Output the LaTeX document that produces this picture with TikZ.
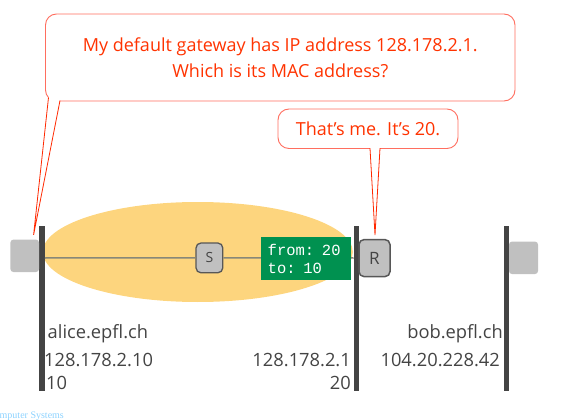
\documentclass[tikz,border=0pt]{standalone}
\usepackage{fontspec}
\setmainfont{Open Sans}
\newfontfamily\monofont{Liberation Mono}
\newfontfamily\footfont{Liberation Serif}
\definecolor{ellcol}{RGB}{253,213,126}
\definecolor{barcol}{RGB}{68,68,68}
\definecolor{hostcol}{RGB}{192,192,192}
\definecolor{linkcol}{RGB}{136,136,120}
\definecolor{boxborder}{RGB}{255,110,95}
\definecolor{tailcol}{RGB}{255,40,0}
\definecolor{calltext}{RGB}{255,51,0}
\definecolor{labcol}{RGB}{68,68,68}
\definecolor{pktcol}{RGB}{0,145,80}
\definecolor{footcol}{RGB}{140,210,255}
\tikzset{
  callout/.style={draw=boxborder, line width=0.9pt, fill=white, rounded corners=11pt,
    text=calltext, align=center, font=\fontsize{18}{25.5}\selectfont, inner sep=0pt},
  tailline/.style={draw=tailcol, line width=0.8pt},
  bar/.style={fill=barcol, minimum width=5.5pt, minimum height=165pt, inner sep=0pt},
  hostbox/.style={fill=hostcol, rounded corners=3pt, inner sep=0pt},
  switchbox/.style={fill=hostcol, draw=barcol!90, line width=1.3pt, rounded corners=5pt,
    inner sep=0pt, text=labcol},
  lab/.style={text=labcol, inner sep=0pt, font=\fontsize{18.3}{20}\selectfont},
  pkt/.style={fill=pktcol, text=white, inner sep=0pt, align=left,
    font=\monofont\fontsize{15.5}{17.5}\selectfont},
}
\begin{document}
\begin{tikzpicture}[x=1pt,y=-1pt]
\useasboundingbox (0,0) rectangle (582,420);
% broadcast domain
\fill[ellcol] (197.8,252) ellipse [x radius=155, y radius=50];
% bars
\node[bar] (bar1) at (42,308) {};
\node[bar] (bar2) at (356.3,308) {};
\node[bar] (bar3) at (506.7,308) {};
% hosts
\node[hostbox, minimum width=28.6pt, minimum height=32.4pt] (alice) at (24.7,255.8) {};
\node[hostbox, minimum width=29pt, minimum height=32.5pt] (bob) at (523.5,257.8) {};
% link
\coordinate (l1) at (44.8,258);
\coordinate (l2) at (353.6,258);
\node[switchbox, minimum width=26.8pt, minimum height=29.8pt, font=\fontsize{14}{16}\selectfont] (S) at (209.4,257.9) {S};
\draw[linkcol, line width=1.5pt] (l1) -- (S.west);
\draw[linkcol, line width=1.5pt] (S.east) -- (l2);
\node[pkt, minimum width=90.5pt, minimum height=42.9pt, text width=77pt] (pkt) at (306.2,258.9) {from: 20\\to: 10};
\node[switchbox, minimum width=31pt, minimum height=37pt, line width=1.5pt, font=\fontsize{17}{19}\selectfont] (R) at (374.5,258.1) {R};
% labels
\node[lab, anchor=west] (an) at (47.5,334) {alice.epfl.ch};
\node[lab, anchor=west] (aip) at (44,360) {128.178.2.10};
\node[lab, anchor=west] (amac) at (46,383) {10};
\node[lab, anchor=east] (rip) at (351,360) {128.178.2.1};
\node[lab, anchor=east] (rmac) at (351,383) {20};
\node[lab, anchor=east] (bn) at (503,334) {bob.epfl.ch};
\node[lab, anchor=east] (bip) at (500,360) {104.20.228.42};
% callouts
\node[callout, minimum width=469.5pt, minimum height=87pt] (c1) at (280.25,57.5)
  {My default gateway has IP address 128.178.2.1.\\Which is its MAC address?};
\coordinate (t1) at (33.6,234.8);
\fill[white] (48.5,97) -- (t1) -- (60,97) -- cycle;
\draw[tailline] (48.5,97.5) -- (t1) -- (60,100.6);
\node[callout, minimum width=180pt, minimum height=39.5pt] (c2) at (368,128.75)
  {That’s me. It’s 20.};
\coordinate (t2) at (375,235);
\fill[white] (370,147) -- (t2) -- (380,147) -- cycle;
\draw[tailline] (370,148.2) -- (t2) -- (380,148.2);
% footer
\node[anchor=west, inner sep=0pt, text=footcol, font=\footfont\fontsize{10}{12}\selectfont] (foot) at (-0.5,416) {mputer Systems};
\end{tikzpicture}
\end{document}
